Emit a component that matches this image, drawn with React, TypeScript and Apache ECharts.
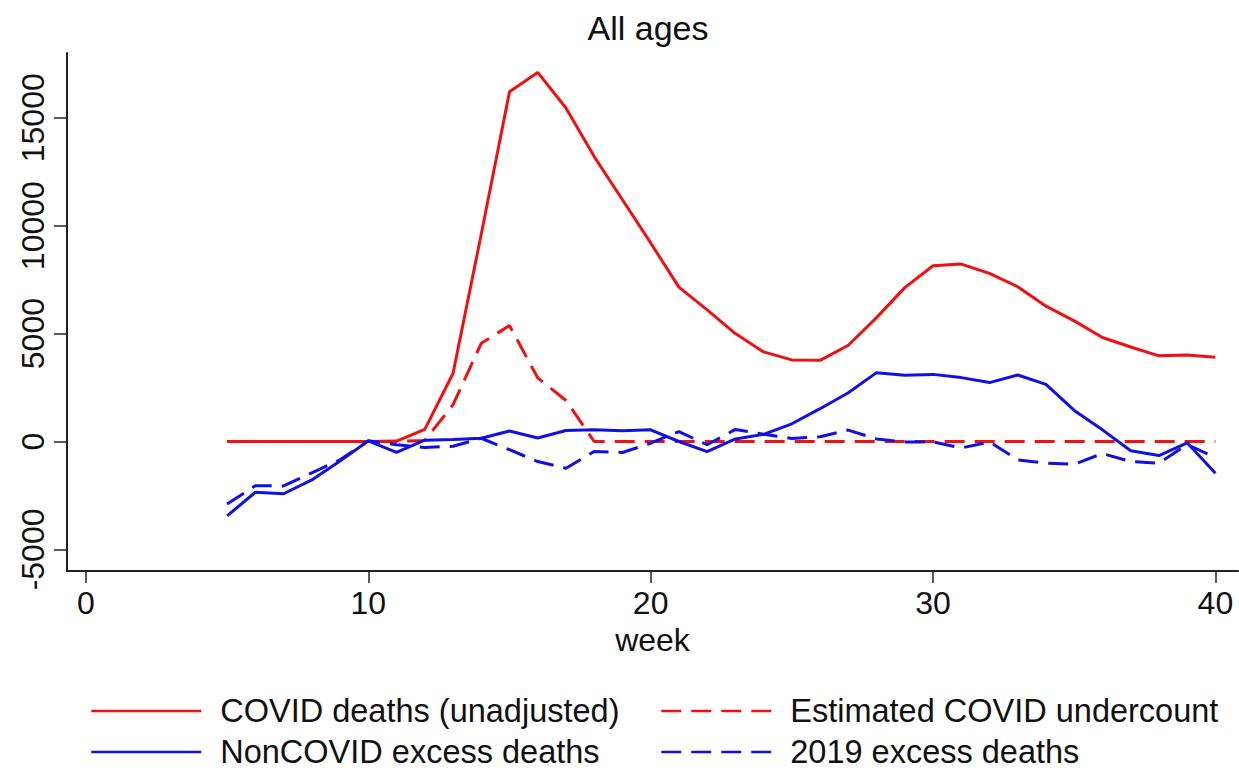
import React, { useEffect, useRef } from "react";
import * as echarts from "echarts";

const weeks = [5, 6, 7, 8, 9, 10, 11, 12, 13, 14, 15, 16, 17, 18, 19, 20, 21, 22, 23, 24, 25, 26, 27, 28, 29, 30, 31, 32, 33, 34, 35, 36, 37, 38, 39, 40];

const covidDeaths = [0, 0, 0, 0, 0, 0, 20, 560, 3150, 9600, 16200, 17100, 15450, 13200, 11200, 9200, 7150, 6100, 5000, 4150, 3780, 3760, 4460, 5740, 7130, 8140, 8220, 7790, 7170, 6270, 5590, 4820, 4380, 3970, 4010, 3900];

const covidUndercount = [0, 0, 0, 0, 0, 0, 0, 50, 1700, 4550, 5370, 2950, 1900, 0, 0, 0, 0, 0, 0, 0, 0, 0, 0, 0, 0, 0, 0, 0, 0, 0, 0, 0, 0, 0, 0, 0];

const nonCovidExcess = [-3450, -2350, -2420, -1780, -900, 30, -500, 60, 90, 150, 490, 160, 510, 540, 500, 540, 0, -470, 120, 330, 820, 1520, 2260, 3190, 3070, 3110, 2960, 2730, 3080, 2650, 1440, 540, -430, -650, -60, -1470];

const excess2019 = [-2900, -2050, -2060, -1450, -850, 30, -150, -280, -220, 150, -380, -930, -1240, -460, -510, -80, 460, -150, 560, 340, 140, 220, 530, 120, -20, -20, -300, -20, -850, -1000, -1050, -560, -930, -1000, -140, -740];

const xTicks = [0, 10, 20, 30, 40];
const yTicks = [-5000, 0, 5000, 10000, 15000];

const names = [
  "COVID deaths (unadjusted)",
  "Estimated COVID undercount",
  "NonCOVID excess deaths",
  "2019 excess deaths",
];

const RED = "#f01010";
const BLUE = "#1010e6";
const FONT = "Liberation Sans, Arial, Helvetica, sans-serif";

export default function App() {
  const ref = useRef<HTMLDivElement>(null);

  useEffect(() => {
    if (!ref.current) return;
    const chart = echarts.init(ref.current, undefined, { renderer: "svg" });
    const toPairs = (arr: number[]) => weeks.map((w, i) => [w, arr[i]]);
    const dash = [20, 10];

    const mkSeries = (name: string, data: number[], color: string, dashed: boolean) => ({
      name,
      type: "line",
      data: toPairs(data),
      showSymbol: false,
      symbol: "none",
      lineStyle: { color, width: 3, type: dashed ? dash : "solid", cap: "butt" },
      itemStyle: { color },
      emphasis: { disabled: true },
    });

    const legendItem = (name: string, left: number, top: number) => ({
      show: true,
      data: [name],
      left,
      top,
      padding: 0,
      itemWidth: 110,
      itemHeight: 20,
      selectedMode: false,
      itemStyle: { opacity: 0 },
      lineStyle: { width: 2.5 },
      textStyle: {
        fontFamily: FONT,
        fontSize: 32.5,
        color: "#111",
        padding: [0, 0, 0, 14],
        lineHeight: 36,
      },
    });

    chart.setOption({
      animation: false,
      backgroundColor: "#ffffff",
      grid: { left: 67, top: 53, width: 1171, height: 518, containLabel: false },
      xAxis: {
        type: "value",
        min: -0.67,
        max: 40.8,
        name: "week",
        nameLocation: "middle",
        nameGap: 52,
        nameTextStyle: { fontFamily: FONT, fontSize: 32, color: "#111" },
        axisLine: { show: true, onZero: false, lineStyle: { color: "#222", width: 2 } },
        axisTick: { show: true, length: 12, customValues: xTicks, lineStyle: { color: "#222", width: 1.5 } },
        axisLabel: {
          customValues: xTicks,
          margin: 16,
          fontFamily: FONT,
          fontSize: 32,
          color: "#111",
          formatter: (v: number) => String(v),
        },
        splitLine: { show: false },
      },
      yAxis: {
        type: "value",
        min: -6000,
        max: 18000,
        axisLine: { show: true, onZero: false, lineStyle: { color: "#222", width: 2 } },
        axisTick: { show: true, length: 13, customValues: yTicks, lineStyle: { color: "#222", width: 1.5 } },
        axisLabel: {
          customValues: yTicks,
          rotate: 90,
          margin: 18,
          fontFamily: FONT,
          fontSize: 32,
          color: "#111",
          formatter: (v: number) => String(v),
        },
        splitLine: { show: false },
      },
      legend: [
        legendItem(names[0], 90, 693),
        legendItem(names[1], 660, 693),
        legendItem(names[2], 90, 734),
        legendItem(names[3], 660, 734),
      ],
      graphic: [
        {
          type: "text",
          x: 648,
          y: 28,
          style: {
            text: "All ages",
            font: `34px ${FONT}`,
            fill: "#111",
            textAlign: "center",
            textVerticalAlign: "middle",
          },
        },
      ],
      series: [
        mkSeries(names[0], covidDeaths, RED, false),
        mkSeries(names[1], covidUndercount, RED, true),
        mkSeries(names[2], nonCovidExcess, BLUE, false),
        mkSeries(names[3], excess2019, BLUE, true),
      ],
    });

    return () => chart.dispose();
  }, []);

  return (
    <div
      ref={ref}
      style={{ position: "fixed", left: 0, top: 0, width: 1239, height: 770, background: "#fff" }}
    />
  );
}
